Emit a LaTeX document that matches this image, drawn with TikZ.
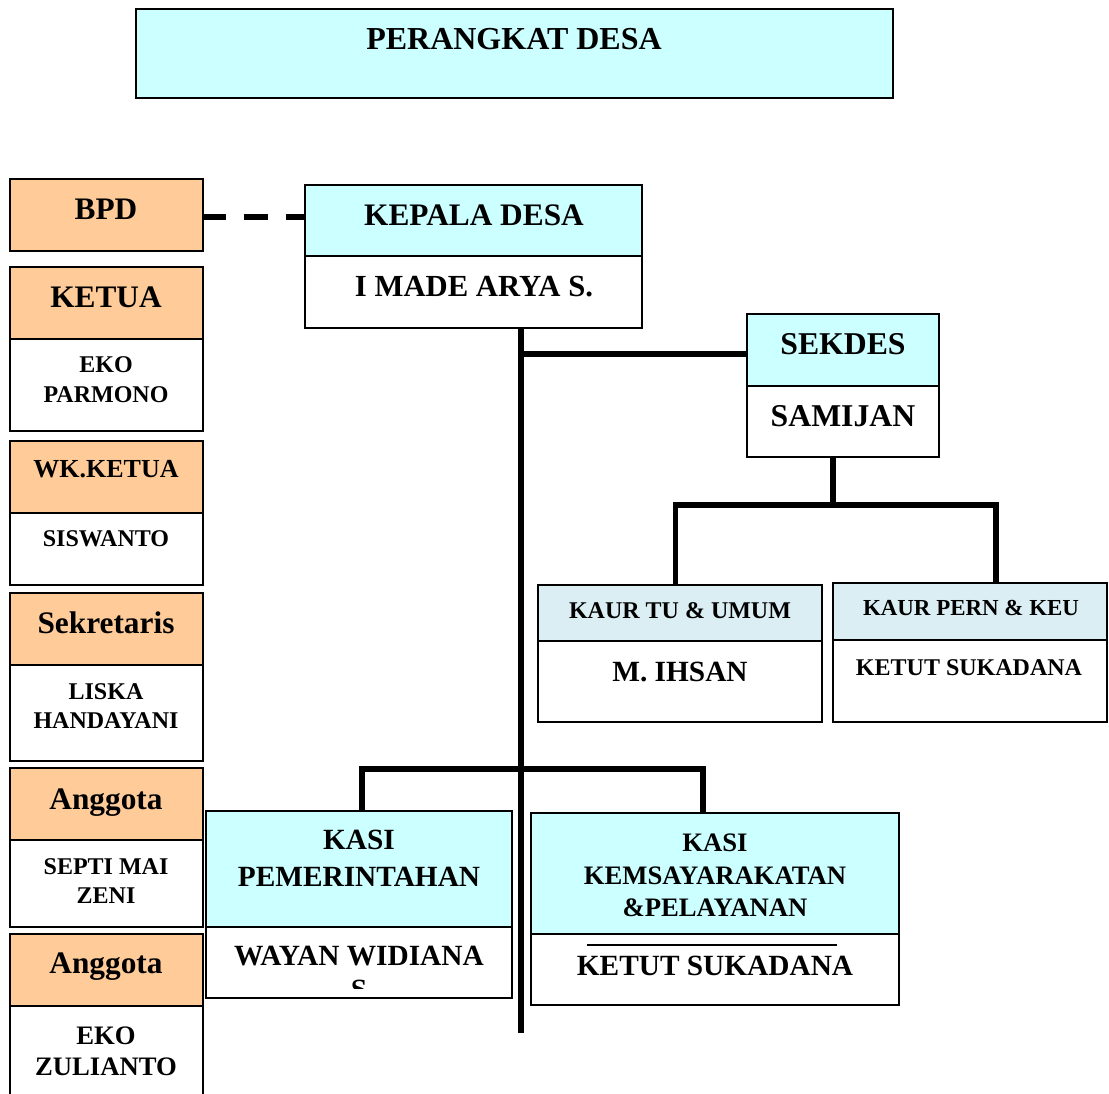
\documentclass[tikz,border=0pt]{standalone}
\usepackage{fontspec}
\setmainfont{Liberation Serif}
\usetikzlibrary{fit}
\definecolor{cyanbg}{HTML}{CCFFFF}
\definecolor{peach}{HTML}{FFCC99}
\definecolor{kaurbg}{HTML}{DAEEF3}
\begin{document}
\begin{tikzpicture}[x=0.75pt,y=-0.75pt,
  bx/.style={draw=black,line width=1.3pt,inner sep=0pt,outer sep=0pt},
  cyanbox/.style={bx,fill=cyanbg},
  peachbox/.style={bx,fill=peach},
  kaurbox/.style={bx,fill=kaurbg},
  whitebox/.style={bx,fill=white},
  lbl/.style={anchor=base,inner sep=0pt,font=\bfseries\fontsize{#1}{#1}\selectfont},
  trunk/.style={line width=4.5pt},
  branch/.style={line width=3.8pt,line join=miter},
  dashconn/.style={line width=5pt,dash pattern=on 17.5pt off 13.5pt}
]
\useasboundingbox (0,0) rectangle (1109,1093);

% title
\node[cyanbox, fit={(136,9) (893,98)}] (title) {};
\node[lbl=24] (t-title) at (514,49) {PERANGKAT DESA};

% left column (BPD)
\node[peachbox, fit={(10,179) (203,251)}] (bpd) {};
\node[lbl=23.5] (t-bpd) at (106,219) {BPD};

\node[peachbox, fit={(10,267) (203,339)}] (ketua-h) {};
\node[whitebox, fit={(10,339) (203,431)}] (ketua-n) {};
\node[lbl=23.5] (t-ketua) at (106,307) {KETUA};
\node[lbl=18] (t-ketua1) at (106,372) {EKO};
\node[lbl=18] (t-ketua2) at (106,402) {PARMONO};

\node[peachbox, fit={(10,441) (203,513)}] (wk-h) {};
\node[whitebox, fit={(10,513) (203,585)}] (wk-n) {};
\node[lbl=19.5] (t-wk) at (106,477) {WK.KETUA};
\node[lbl=18] (t-wk1) at (106,546) {SISWANTO};

\node[peachbox, fit={(10,593) (203,665)}] (sek-h) {};
\node[whitebox, fit={(10,665) (203,761)}] (sek-n) {};
\node[lbl=23.5] (t-sek) at (106,633) {Sekretaris};
\node[lbl=18] (t-sek1) at (106,699) {LISKA};
\node[lbl=18] (t-sek2) at (106,728) {HANDAYANI};

\node[peachbox, fit={(10,768) (203,840)}] (ang1-h) {};
\node[whitebox, fit={(10,840) (203,927)}] (ang1-n) {};
\node[lbl=23.5] (t-ang1) at (106,809) {Anggota};
\node[lbl=18] (t-ang1a) at (106,874) {SEPTI MAI};
\node[lbl=18] (t-ang1b) at (106,903) {ZENI};

\node[peachbox, fit={(10,934) (203,1006)}] (ang2-h) {};
\node[whitebox, fit={(10,1006) (203,1102)}] (ang2-n) {};
\node[lbl=23.5] (t-ang2) at (106,973) {Anggota};
\node[lbl=20] (t-ang2a) at (106,1044) {EKO};
\node[lbl=20] (t-ang2b) at (106,1075) {ZULIANTO};

% kepala desa
\node[cyanbox, fit={(305,185) (642,256)}] (kepala-h) {};
\node[whitebox, fit={(305,256) (642,328)}] (kepala-n) {};
\node[lbl=23.5] (t-kepala) at (474,225) {KEPALA DESA};
\node[lbl=23] (t-kepala1) at (474,296) {I MADE ARYA S.};

% sekdes
\node[cyanbox, fit={(747,314) (939,386)}] (sekdes-h) {};
\node[whitebox, fit={(747,386) (939,457)}] (sekdes-n) {};
\node[lbl=23.8] (t-sekdes) at (843,354) {SEKDES};
\node[lbl=23.8] (t-sekdes1) at (843,426) {SAMIJAN};

% kaur
\node[kaurbox, fit={(538,585) (822,641)}] (kaurtu-h) {};
\node[whitebox, fit={(538,641) (822,722)}] (kaurtu-n) {};
\node[lbl=18] (t-kaurtu) at (680,618) {KAUR TU \& UMUM};
\node[lbl=22] (t-kaurtu1) at (680,681) {M. IHSAN};

\node[kaurbox, fit={(833,583) (1107,640)}] (kaurpern-h) {};
\node[whitebox, fit={(833,640) (1107,722)}] (kaurpern-n) {};
\node[lbl=17.2] (t-kaurpern) at (971,615) {KAUR PERN \& KEU};
\node[lbl=18] (t-kaurpern1) at (969,675) {KETUT SUKADANA};

% kasi
\node[cyanbox, fit={(206,811) (512,927)}] (kasipem-h) {};
\node[whitebox, fit={(206,927) (512,998)}] (kasipem-n) {};
\node[lbl=22] (t-kasipem) at (359,849) {KASI};
\node[lbl=22] (t-kasipem1) at (359,886) {PEMERINTAHAN};
\node[lbl=22] (t-kasipem2) at (359,965) {WAYAN WIDIANA};
\begin{scope}
\clip (206,927) rectangle (512,988);
\node[lbl=22] (t-kasipem3) at (359,999) {S};
\end{scope}

\node[cyanbox, fit={(531,813) (899,934)}] (kasikem-h) {};
\node[whitebox, fit={(531,934) (899,1005)}] (kasikem-n) {};
\node[lbl=20] (t-kasikem) at (715,851) {KASI};
\node[lbl=20] (t-kasikem1) at (715,884) {KEMSAYARAKATAN};
\node[lbl=20] (t-kasikem2) at (715,916) {\&PELAYANAN};
\node[lbl=22] (t-kasikem3) at (715,975) {KETUT SUKADANA};
\coordinate (olA) at (587,945);
\coordinate (olB) at (837,945);
\draw[line width=1.5pt] (olA) -- (olB);

% connectors
\draw[dashconn] (bpd.east |- 0,217) -- (kepala-h.west |- 0,217);

\coordinate (trunkend) at (521,1033);
\draw[trunk] (trunkend |- kepala-n.south) -- (trunkend);

\coordinate (sj) at (521,354);
\draw[branch] (sj) -- (sj -| sekdes-h.west);

\coordinate (sdj) at (833,505);
\draw[branch] (sdj |- sekdes-n.south) -- (sdj);
\coordinate (kbl) at (675.5,505);
\coordinate (kbr) at (996,505);
\draw[branch] (kbl |- kaurtu-h.north) -- (kbl) -- (kbr) -- (kbr |- kaurpern-h.north);

\coordinate (kjl) at (362,769);
\coordinate (kjr) at (703,769);
\draw[branch] (kjl |- kasipem-h.north) -- (kjl) -- (kjr) -- (kjr |- kasikem-h.north);
\end{tikzpicture}
\end{document}
